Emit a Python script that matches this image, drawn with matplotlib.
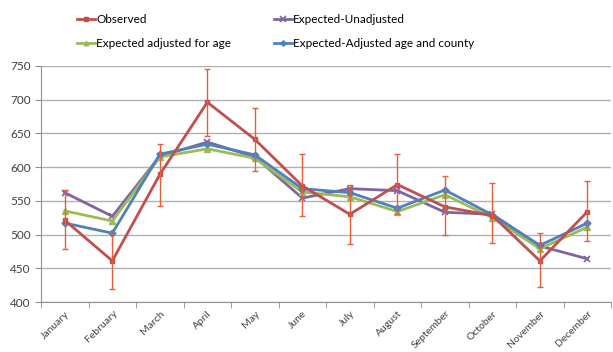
import matplotlib.pyplot as plt
import numpy as np

plt.rcParams['font.family'] = ['Lato', 'DejaVu Sans']

months = ["January", "February", "March", "April", "May", "June", "July",
          "August", "September", "October", "November", "December"]
observed = [521, 461, 589, 696, 641, 572, 530, 574, 541, 528, 461, 534]
obs_low = [479, 420, 542, 646, 594, 527, 486, 530, 499, 488, 422, 490]
obs_high = [566, 502, 634, 745, 688, 619, 573, 619, 587, 576, 502, 579]
unadjusted = [562, 527, 616, 637, 615, 554, 568, 565, 533, 530, 483, 464]
adj_age = [535, 520, 615, 627, 613, 563, 556, 534, 559, 525, 479, 511]
adj_age_county = [517, 502, 619, 634, 618, 568, 562, 539, 566, 529, 484, 517]

red = "#c0504d"
purple = "#8064a2"
green = "#9bbb59"
blue = "#4f81bd"

fig = plt.figure(figsize=(6.13, 3.52), dpi=100)
ax = fig.add_axes([0.067, 0.142, 0.93, 0.671])

x = np.arange(len(months))
yerr = [np.array(observed) - np.array(obs_low), np.array(obs_high) - np.array(observed)]

h_obs, = ax.plot(x, observed, color=red, lw=2, marker="s", ms=3.5, zorder=5)
ax.errorbar(x, observed, yerr=yerr, fmt="none", ecolor="#e4603a", elinewidth=1,
            capsize=2, capthick=1, zorder=6)
h_un, = ax.plot(x, unadjusted, color=purple, lw=2, marker="x", ms=5, mew=1.2, zorder=3)
h_age, = ax.plot(x, adj_age, color=green, lw=2, marker="^", ms=4, zorder=3)
h_cty, = ax.plot(x, adj_age_county, color=blue, lw=2, marker="D", ms=3.5, zorder=4)

ax.set_xlim(-0.5, 11.5)
ax.set_ylim(400, 750)
ax.set_yticks(range(400, 751, 50))
ax.yaxis.grid(True, color="#b0b0b0", lw=1)
ax.set_axisbelow(True)

ax.set_xticks(x)
ax.set_xticklabels(months, rotation=45, ha="right", rotation_mode="anchor",
                   fontsize=7.5, color="#404040")
ax.set_xticks(np.arange(-0.5, 12, 1), minor=True)
ax.tick_params(axis="x", which="major", length=0, pad=5)
ax.tick_params(axis="x", which="minor", length=4, color="#909090")
ax.tick_params(axis="y", length=4, color="#909090", labelsize=8.5, labelcolor="#404040")

for s in ["top", "right"]:
    ax.spines[s].set_visible(False)
ax.spines["left"].set_color("#909090")
ax.spines["bottom"].set_color("#909090")

fig.legend([h_obs, h_age, h_un, h_cty],
           ["Observed", "Expected adjusted for age",
            "Expected-Unadjusted", "Expected-Adjusted age and county"],
           ncol=2, loc="upper left", bbox_to_anchor=(0.108, 0.99), frameon=False,
           fontsize=8.5, handlelength=1.55, handletextpad=0.1, columnspacing=3.6,
           labelspacing=1.1, markerscale=0.8)

fig.savefig("out.png", dpi=100)
